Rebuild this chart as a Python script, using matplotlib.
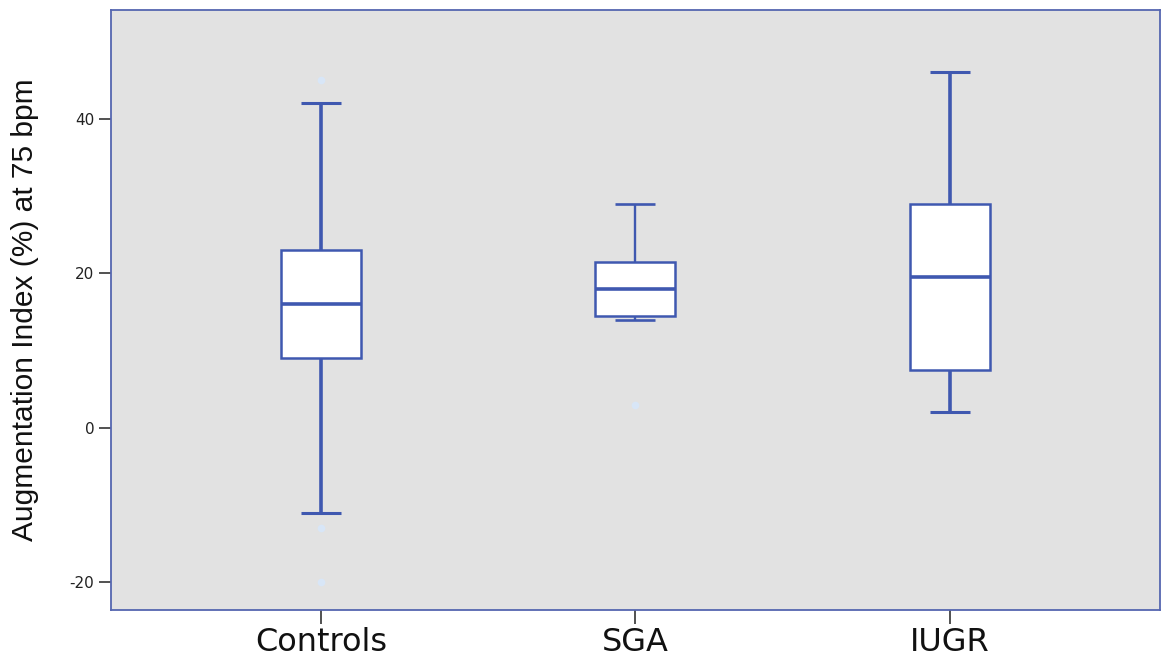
import matplotlib
matplotlib.use("Agg")
import matplotlib.pyplot as plt

categories = ["Controls", "SGA", "IUGR"]
whisker_low = [-11, 14, 2]
q1 = [9, 14.5, 7.5]
median = [16, 18, 19.5]
q3 = [23, 21.5, 29]
whisker_high = [42, 29, 46]
outliers = [[45, -13, -20], [3], []]
yticks = [-20, 0, 20, 40]

blue = "#3f58b0"
fig = plt.figure(figsize=(11.68, 6.59), dpi=100)
ax = fig.add_axes([0.095, 0.0744, 0.898, 0.9106])
ax.set_facecolor("#e2e2e2")

stats = []
for i, c in enumerate(categories):
    stats.append(dict(label=c, whislo=whisker_low[i], q1=q1[i], med=median[i],
                      q3=q3[i], whishi=whisker_high[i], fliers=outliers[i]))

positions = [1, 2, 3]
bp = ax.bxp(stats, positions=positions, widths=0.254, patch_artist=True,
            showfliers=True,
            boxprops=dict(facecolor="white", edgecolor=blue, linewidth=1.8),
            medianprops=dict(color=blue, linewidth=2.6, solid_capstyle="butt"),
            whiskerprops=dict(color=blue, linewidth=2.6, solid_capstyle="butt"),
            capprops=dict(color=blue, linewidth=2.2, solid_capstyle="butt"),
            flierprops=dict(marker="o", markersize=5.5, markerfacecolor="#d8e6f7",
                            markeredgecolor="none"))
# SGA drawn thinner
for w in bp["whiskers"][2:4]:
    w.set_linewidth(1.7)
for cp in bp["caps"][2:4]:
    cp.set_linewidth(1.9)
for cp in bp["caps"]:
    x = cp.get_xdata()
    mid = (x[0] + x[1]) / 2
    cp.set_xdata([mid - 0.0635, mid + 0.0635])
for w in bp["whiskers"]:
    w.set_zorder(1.9)

ax.set_xlim(0.332, 3.668)
ax.set_ylim(-23.6, 54.1)
ax.set_yticks(yticks)
ax.set_yticklabels([str(v) for v in yticks], fontsize=11, family="DejaVu Sans",
                   color="#222222")
ax.set_xticks(positions)
ax.set_xticklabels(categories, fontsize=23, family="DejaVu Sans", color="#111111")
ax.tick_params(axis="y", length=9, width=1.2, color="#333333", pad=3)
ax.tick_params(axis="x", length=10, width=1.2, color="#333333", pad=2)
for s in ax.spines.values():
    s.set_color("#5566b0")
    s.set_linewidth(1.3)
ax.set_ylabel("Augmentation Index (%) at 75 bpm", fontsize=21.5,
              family=["Liberation Sans"], labelpad=22, color="#111111")

fig.savefig("out.png", dpi=100)
